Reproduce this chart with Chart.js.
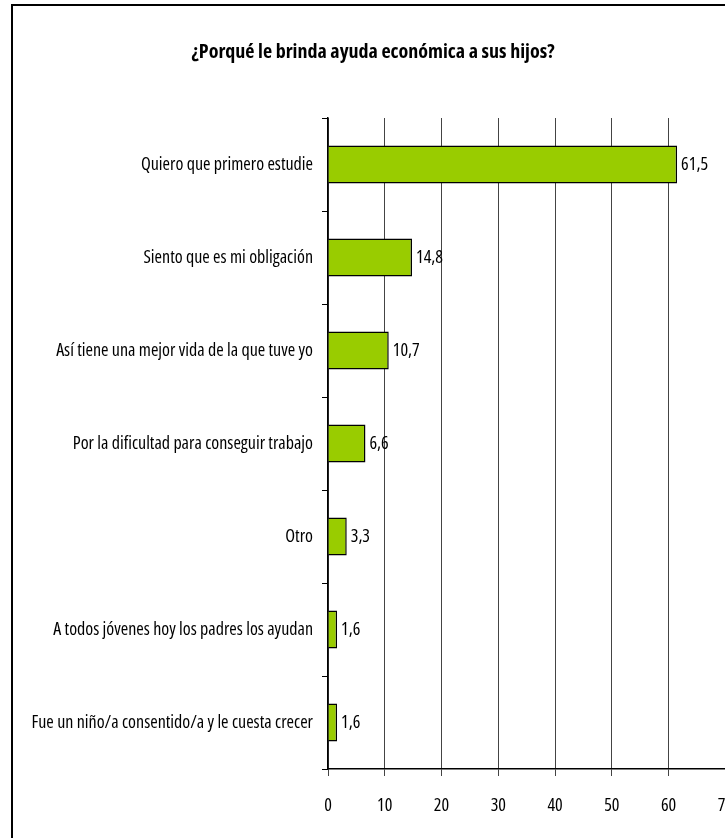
<!DOCTYPE html>
<html><head><meta charset="utf-8">
<script src="https://cdn.jsdelivr.net/npm/chart.js@4"></script>
<style>
html,body{margin:0;padding:0;overflow:hidden;background:#fff;width:725px;height:838px;}
#frame{position:absolute;left:11px;top:4px;width:800px;height:900px;border-left:2px solid #000;border-top:2px solid #000;}
#wrap{position:absolute;left:0;top:0;width:752px;height:838px;}
</style></head><body>
<div id="frame"></div>
<div id="wrap"><canvas id="c" width="752" height="838"></canvas></div>
<script>
const titleText = '¿Porqué le brinda ayuda económica a sus hijos?';
const categories = [
  'Quiero que primero estudie',
  'Siento que es mi obligación',
  'Así tiene una mejor vida de la que tuve yo',
  'Por la dificultad para conseguir trabajo',
  'Otro',
  'A todos jóvenes hoy los padres los ayudan',
  'Fue un niño/a consentido/a y le cuesta crecer'
];
const values = [61.5, 14.8, 10.7, 6.6, 3.3, 1.6, 1.6];
const xMin = 0, xMax = 70, xStep = 10;

const FONT = "'Open Sans', sans-serif";

const valueLabels = {
  id: 'valueLabels',
  afterDatasetsDraw(chart) {
    const ctx = chart.ctx;
    const meta = chart.getDatasetMeta(0);
    ctx.save();
    ctx.font = 'condensed 18px ' + FONT;
    ctx.fillStyle = '#000';
    ctx.textAlign = 'left';
    ctx.textBaseline = 'middle';
    meta.data.forEach((bar, i) => {
      const txt = values[i].toFixed(1).replace('.', ',');
      ctx.fillText(txt, bar.x + 4, bar.y);
    });
    ctx.restore();
  }
};
const titlePos = {
  id: 'titlePos',
  afterLayout(chart) {
    const t = chart.titleBlock;
    if (t) { t.left = 0; t.right = 746; t.width = 746; }
  }
};

new Chart(document.getElementById('c'), {
  type: 'bar',
  data: {
    labels: categories,
    datasets: [{
      data: values,
      backgroundColor: '#99CC00',
      borderColor: '#000',
      borderWidth: 1.5,
      categoryPercentage: 1,
      barPercentage: 0.41
    }]
  },
  options: {
    indexAxis: 'y',
    responsive: false,
    animation: false,
    devicePixelRatio: 1,
    layout: { padding: { top: 0, right: 7, left: 0, bottom: 0 } },
    plugins: {
      legend: { display: false },
      tooltip: { enabled: false },
      title: {
        display: true,
        text: titleText,
        color: '#000',
        font: { family: FONT, size: 20, weight: 'bold condensed' },
        padding: { top: 40, bottom: 54 }
      }
    },
    scales: {
      y: {
        afterFit(scale) { scale.width = 328; },
        ticks: { color: '#000', font: { family: FONT, size: 18, weight: 'condensed' }, padding: 9 },
        grid: { drawOnChartArea: false, drawTicks: true, tickLength: 6, color: '#000' },
        border: { color: '#000', width: 1.5 }
      },
      x: {
        min: xMin, max: xMax,
        afterFit(scale) { scale.height = 69; },
        ticks: { stepSize: xStep, color: '#000', font: { family: FONT, size: 18, weight: 'condensed' }, padding: 19 },
        grid: { color: '#444', lineWidth: 1, tickLength: 7 },
        border: { color: '#000', width: 1.5 }
      }
    }
  },
  plugins: [valueLabels, titlePos]
});
</script>
</body></html>
